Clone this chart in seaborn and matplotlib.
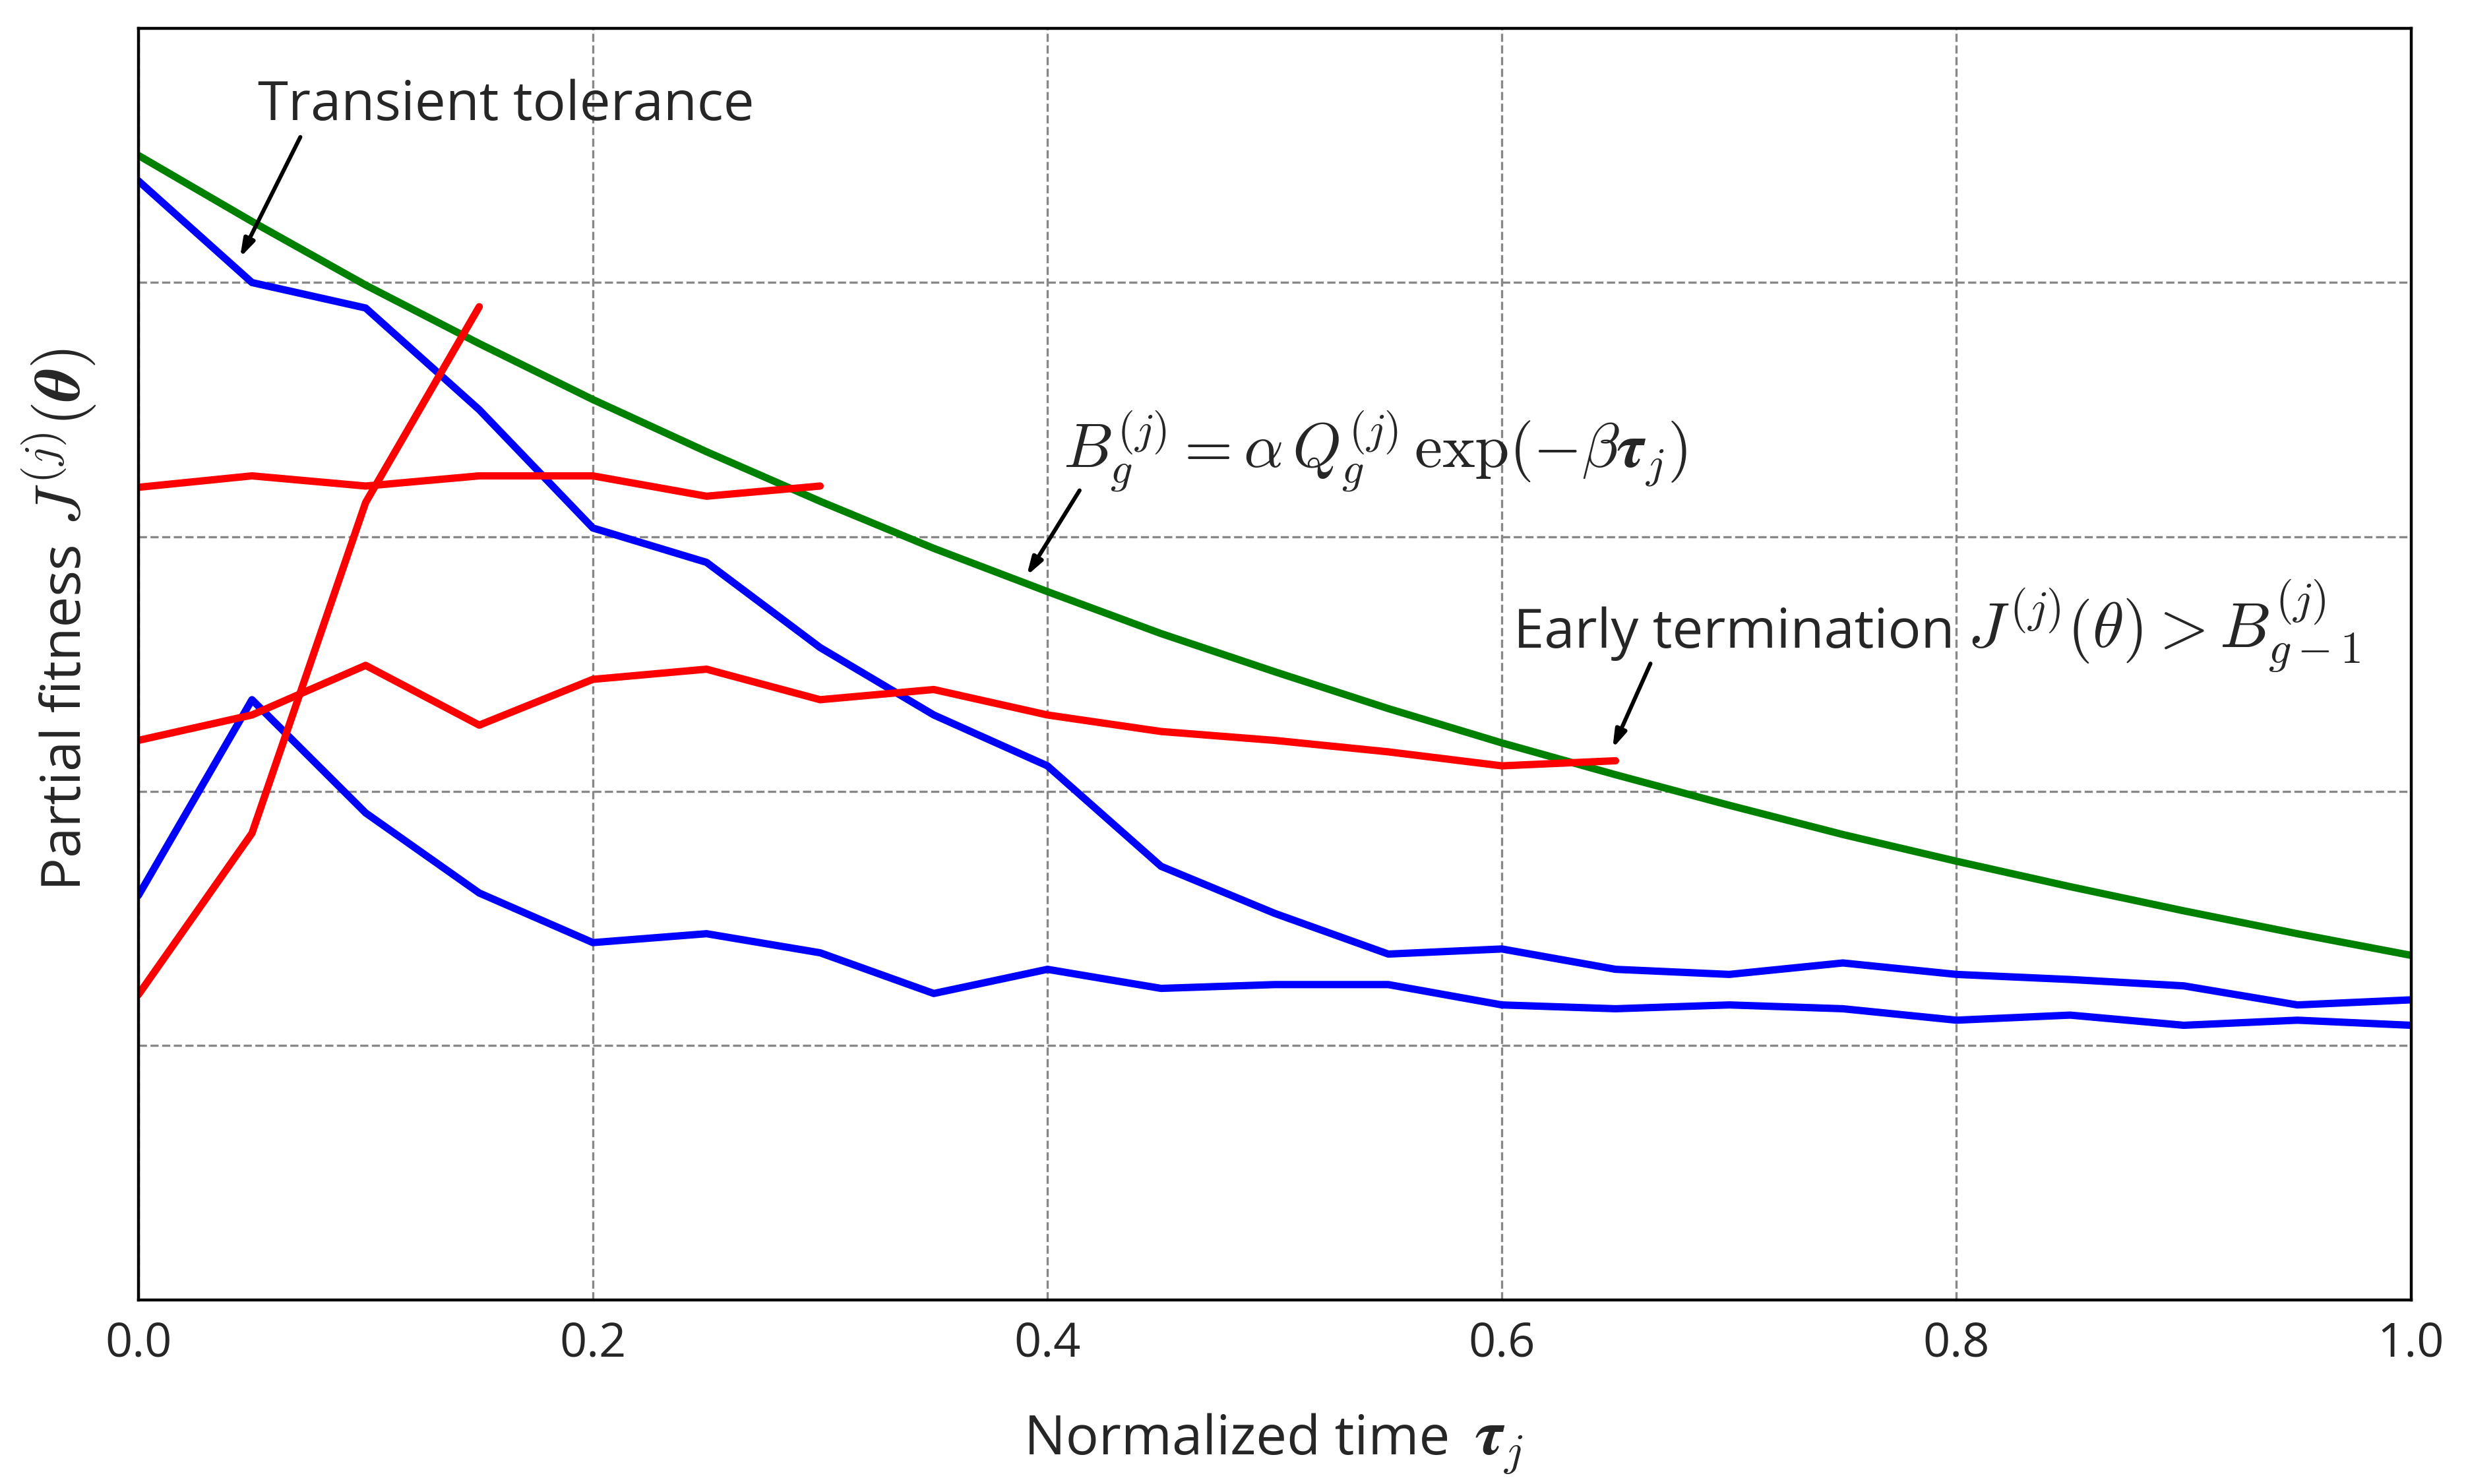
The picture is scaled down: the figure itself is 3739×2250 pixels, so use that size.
import matplotlib
matplotlib.use("Agg")
import matplotlib.pyplot as plt
import seaborn as sns

# normalized time grid (0.05 steps)
tau = [0.00, 0.05, 0.10, 0.15, 0.20, 0.25, 0.30, 0.35, 0.40, 0.45, 0.50,
       0.55, 0.60, 0.65, 0.70, 0.75, 0.80, 0.85, 0.90, 0.95, 1.00]

# bound B_g^(j)
bound = [0.900, 0.848, 0.798, 0.752, 0.708, 0.667, 0.628, 0.591, 0.557, 0.524, 0.494,
         0.465, 0.438, 0.413, 0.389, 0.366, 0.345, 0.325, 0.306, 0.288, 0.271]

# two full runs (blue)
blue_upper = [0.880, 0.800, 0.780, 0.700, 0.607, 0.580, 0.513, 0.460, 0.420, 0.341, 0.304,
              0.272, 0.276, 0.260, 0.256, 0.265, 0.256, 0.252, 0.247, 0.232, 0.236]
blue_lower = [0.318, 0.472, 0.383, 0.320, 0.281, 0.288, 0.273, 0.241, 0.260, 0.245, 0.248,
              0.248, 0.232, 0.229, 0.232, 0.229, 0.220, 0.224, 0.216, 0.220, 0.216]

# terminated runs (red)
red_steep = [0.240, 0.367, 0.627, 0.781]
red_flat = [0.639, 0.648, 0.640, 0.648, 0.648, 0.632, 0.640]
red_mid = [0.440, 0.460, 0.499, 0.452, 0.488, 0.496, 0.472, 0.480, 0.460, 0.447, 0.440,
           0.431, 0.420, 0.424]

TXT = 30   # plain text size
MTH = 35   # math size (rendered bigger in the original)

sns.set_style("white")
plt.rcParams['font.family'] = ['Open Sans', 'DejaVu Sans']
plt.rcParams['mathtext.fontset'] = 'cm'

fig, ax = plt.subplots(figsize=(18.695, 11.25), dpi=200)
fig.subplots_adjust(left=0.0561, right=0.9777, top=0.981, bottom=0.124)

lw = 4
sns.lineplot(x=tau, y=bound, color='green', lw=lw, ax=ax)
sns.lineplot(x=tau, y=blue_upper, color='blue', lw=lw, ax=ax)
sns.lineplot(x=tau, y=blue_lower, color='blue', lw=lw, ax=ax)
sns.lineplot(x=tau[:len(red_steep)], y=red_steep, color='red', lw=lw, ax=ax)
sns.lineplot(x=tau[:len(red_flat)], y=red_flat, color='red', lw=lw, ax=ax)
sns.lineplot(x=tau[:len(red_mid)], y=red_mid, color='red', lw=lw, ax=ax)

ax.set_xlim(0, 1)
ax.set_ylim(0, 1)
ax.set_xticks([0.0, 0.2, 0.4, 0.6, 0.8, 1.0])
ax.set_xticklabels(['0.0', '0.2', '0.4', '0.6', '0.8', '1.0'])
ax.set_yticks([0.2, 0.4, 0.6, 0.8])
ax.set_yticklabels([])
ax.tick_params(axis='both', length=0, labelsize=26, pad=11)
ax.grid(True, ls='--', color='#888888', lw=1.2)
for s in ax.spines.values():
    s.set_color('black')
    s.set_linewidth(1.6)

arrow = dict(arrowstyle='-|>,head_length=0.8,head_width=0.25', color='black', lw=2.2)

ax.text(0.0526, 0.928, 'Transient tolerance', fontsize=TXT, va='baseline')
ax.annotate('', xy=(0.044, 0.817), xytext=(0.072, 0.917), arrowprops=arrow)

ax.text(0.407, 0.655, r'$B_g^{(j)} = \alpha\, Q_g^{(j)}\, \exp(-\beta\boldsymbol{\tau}_j)$',
        fontsize=MTH - 1, va='baseline')
ax.annotate('', xy=(0.390, 0.567), xytext=(0.415, 0.639), arrowprops=arrow)

ax.annotate('', xy=(0.648, 0.431), xytext=(0.666, 0.503), arrowprops=arrow)


def two_part(plain, math, x, y, rot, center=False, gap=10):
    """plain text followed by a bigger math part on the same baseline (figure coords)"""
    t1 = fig.text(x, y, plain, fontsize=TXT, rotation=rot, rotation_mode='anchor',
                  ha='left', va='baseline')
    fig.canvas.draw()
    bb = t1.get_window_extent()
    W, H = fig.bbox.width, fig.bbox.height
    if rot == 0:
        x2, y2 = x + (bb.width + gap) / W, y
    else:
        x2, y2 = x, y + (bb.height + gap) / H
    t2 = fig.text(x2, y2, math, fontsize=MTH, rotation=rot, rotation_mode='anchor',
                  ha='left', va='baseline')
    if center:
        fig.canvas.draw()
        b2 = t2.get_window_extent()
        if rot == 0:
            half = (b2.x1 - bb.x0) / W / 2
            t1.set_x(x - half)
            t2.set_x(x2 - half)
        else:
            half = (b2.y1 - bb.y0) / H / 2
            t1.set_y(y - half)
            t2.set_y(y2 - half)
    return t1, t2


# axis labels (axes centre x = 0.517, label centre y = 0.535 of axes)
two_part('Normalized time', r'$\boldsymbol{\tau}_j$', 0.5165, 0.020, 0, center=True, gap=38)
two_part('Partial fitness', r'$\boldsymbol{J^{(j)}(\theta)}$', 0.0325, 0.124 + 0.535 * 0.857,
         90, center=True, gap=28)

# early termination label in data coords -> figure coords
ex, ey = fig.transFigure.inverted().transform(ax.transData.transform((0.605, 0.513)))
two_part('Early termination', r'$J^{(j)}(\theta) > B_{g-1}^{(j)}$', ex, ey, 0, gap=20)

fig.savefig('out.png', dpi=200)
